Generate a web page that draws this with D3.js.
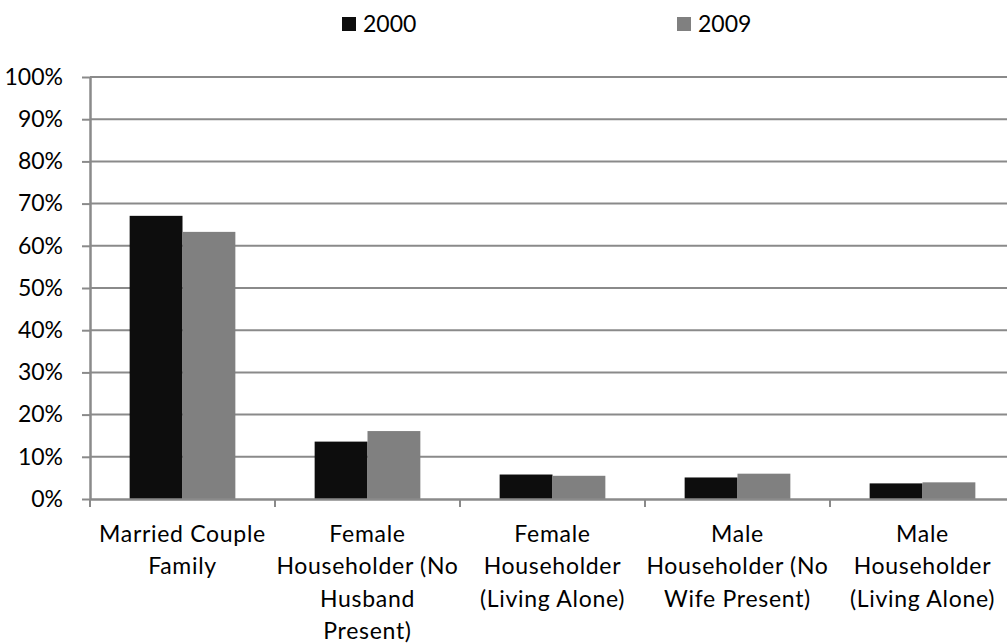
<!DOCTYPE html>
<html>
<head>
<meta charset="utf-8">
<script src="https://cdn.jsdelivr.net/npm/d3@7"></script>
<style>
  html, body { margin: 0; padding: 0; background: #fff; }
  svg { display: block; font-family: Lato, "Open Sans", sans-serif; }
</style>
</head>
<body>
<svg id="chart" width="1007" height="643"></svg>
<script>
const categories = [
  "Married Couple Family",
  "Female Householder (No Husband Present)",
  "Female Householder (Living Alone)",
  "Male Householder (No Wife Present)",
  "Male Householder (Living Alone)"
];
const categoryLines = [
  ["Married Couple", "Family"],
  ["Female", "Householder (No", "Husband", "Present)"],
  ["Female", "Householder", "(Living Alone)"],
  ["Male", "Householder (No", "Wife Present)"],
  ["Male", "Householder", "(Living Alone)"]
];
const seriesNames = ["2000", "2009"];
const values2000 = [67.1, 13.6, 5.8, 5.1, 3.7];
const values2009 = [63.3, 16.1, 5.5, 6.0, 3.95];
const yTicks = [0, 10, 20, 30, 40, 50, 60, 70, 80, 90, 100];
const colors = ["#0d0d0d", "#808080"];

const seriesValues = [values2000, values2009];
const svg = d3.select("#chart");
const mLeft = 90, mRight = 1015, mTop = 77, mBottom = 499;
const fontSize = 23;

const x0 = d3.scaleBand().domain(categories).range([mLeft, mRight]).paddingInner(0).paddingOuter(0);
const x1 = d3.scaleBand().domain(seriesNames).range([0, x0.bandwidth()]).paddingInner(0).paddingOuter(0.75);
const y = d3.scaleLinear().domain([0, 100]).range([mBottom, mTop]);

const gridColor = "#8a8a8a";

// gridlines
svg.append("g").selectAll("line").data(yTicks.filter(d => d > 0)).join("line")
  .attr("x1", mLeft).attr("x2", 1007)
  .attr("y1", d => y(d)).attr("y2", d => y(d))
  .attr("stroke", gridColor).attr("stroke-width", 2);

// y axis
const yAxis = svg.append("g").attr("transform", `translate(${mLeft},0)`)
  .call(d3.axisLeft(y).tickValues(yTicks).tickFormat(d => d + "%").tickSizeInner(8).tickSizeOuter(0).tickPadding(19));
yAxis.select(".domain").attr("stroke", gridColor).attr("stroke-width", 2.5);
yAxis.selectAll(".tick line").attr("stroke", gridColor).attr("stroke-width", 2);
yAxis.selectAll(".tick text").attr("font-size", fontSize).attr("fill", "#000")
  .attr("font-family", "Lato, 'Open Sans', sans-serif");

// bars
const groups = svg.append("g").selectAll("g").data(categories).join("g")
  .attr("transform", d => `translate(${x0(d)},0)`);
groups.selectAll("rect").data((d, i) => seriesNames.map((s, j) => ({ s, v: seriesValues[j][i], j })))
  .join("rect")
  .attr("x", d => x1(d.s))
  .attr("width", x1.bandwidth())
  .attr("y", d => y(d.v))
  .attr("height", d => y(0) - y(d.v))
  .attr("fill", d => colors[d.j]);

// x axis
const xAxis = svg.append("g").attr("transform", `translate(0,${mBottom})`)
  .call(d3.axisBottom(x0).tickSize(0).tickFormat(""));
xAxis.select(".domain").attr("stroke", gridColor).attr("stroke-width", 2.5);
xAxis.selectAll(".tick").remove();
// category boundary ticks
const boundaries = categories.map(c => x0(c)).concat([mRight]);
svg.append("g").selectAll("line").data(boundaries).join("line")
  .attr("x1", d => d).attr("x2", d => d)
  .attr("y1", mBottom).attr("y2", mBottom + 8)
  .attr("stroke", gridColor).attr("stroke-width", 2);

// category labels
const labelG = svg.append("g");
categories.forEach((c, i) => {
  const t = labelG.append("text")
    .attr("x", x0(c) + x0.bandwidth() / 2)
    .attr("text-anchor", "middle")
    .attr("font-size", fontSize)
    .attr("letter-spacing", 0.7)
    .attr("fill", "#000");
  categoryLines[i].forEach((ln, k) => {
    t.append("tspan").attr("x", x0(c) + x0.bandwidth() / 2)
      .attr("y", 534 + k * 32.3)
      .attr("dy", "0.35em")
      .text(ln);
  });
});

// legend
const legendX = [342, 677];
const legend = svg.append("g").selectAll("g").data(seriesNames).join("g")
  .attr("transform", (d, i) => `translate(${legendX[i]},0)`);
legend.append("rect").attr("x", 0).attr("y", 17).attr("width", 14).attr("height", 14)
  .attr("fill", (d, i) => colors[i]);
legend.append("text").attr("x", 21).attr("y", 24).attr("dy", "0.35em")
  .attr("font-size", fontSize).attr("fill", "#000").text(d => d);
</script>
</body>
</html>
